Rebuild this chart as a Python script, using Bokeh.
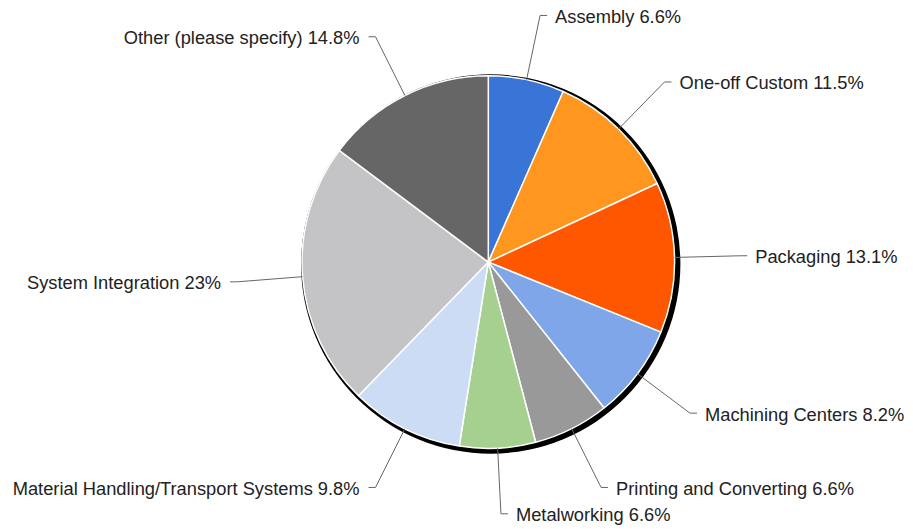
import math
from bokeh.plotting import figure
from bokeh.models import Range1d
from bokeh.core.properties import value
from bokeh.embed import file_html
from bokeh.resources import INLINE

categories = ["Assembly", "One-off Custom", "Packaging", "Machining Centers",
              "Printing and Converting", "Metalworking",
              "Material Handling/Transport Systems", "System Integration",
              "Other (please specify)"]
shares = [6.6, 11.5, 13.1, 8.2, 6.6, 6.6, 9.8, 23, 14.8]
colors = ["#3875d7", "#ff961f", "#ff5600", "#7ea6e8", "#999999",
          "#a6d08f", "#cddcf5", "#c4c4c6", "#666666"]

W, H = 913, 529
cx, cy = 487.8, H - 261.6
R = 186.3
R_ELBOW = 252.0
HOOK = 7.0
GAP_R = 8.0
GAP_L = 9.0
TEXT_DY = 1.0

p = figure(width=W, height=H, output_backend="svg", toolbar_location=None,
           x_range=Range1d(0, W), y_range=Range1d(0, H),
           x_axis_location=None, y_axis_location=None,
           min_border=0, outline_line_color=None)
p.grid.visible = False
p.background_fill_color = "white"
p.border_fill_color = "white"

# shadow
p.circle(x=[cx + 2.4], y=[cy - 1.9], radius=R + 3.4, fill_color="black",
         line_color=None)

total = sum(shares)
starts, ends = [], []
acc = 0.0
for v in shares:
    a0 = math.pi / 2 - 2 * math.pi * acc / total
    acc += v
    a1 = math.pi / 2 - 2 * math.pi * acc / total
    starts.append(a0)
    ends.append(a1)

p.wedge(x=[cx] * len(shares), y=[cy] * len(shares), radius=R,
        start_angle=starts, end_angle=ends, direction="clock",
        fill_color=colors, line_color="white", line_width=1.5)

for name, v, a0, a1 in zip(categories, shares, starts, ends):
    mid = (a0 + a1) / 2
    ex, ey = cx + R * math.cos(mid), cy + R * math.sin(mid)
    kx, ky = cx + R_ELBOW * math.cos(mid), cy + R_ELBOW * math.sin(mid)
    right = math.cos(mid) >= 0
    hx = kx + HOOK if right else kx - HOOK
    p.line(x=[ex, kx, hx], y=[ey, ky, ky], line_color="#666666", line_width=1)
    tx = hx + GAP_R if right else hx - GAP_L
    p.text(x=[tx], y=[ky - TEXT_DY], text=[f"{name} {v:g}%"],
           text_align="left" if right else "right", text_baseline="middle",
           text_font=value("Liberation Sans"), text_font_size="18.3px",
           text_color="#222222")

open("out.html", "w").write(file_html(p, INLINE))
